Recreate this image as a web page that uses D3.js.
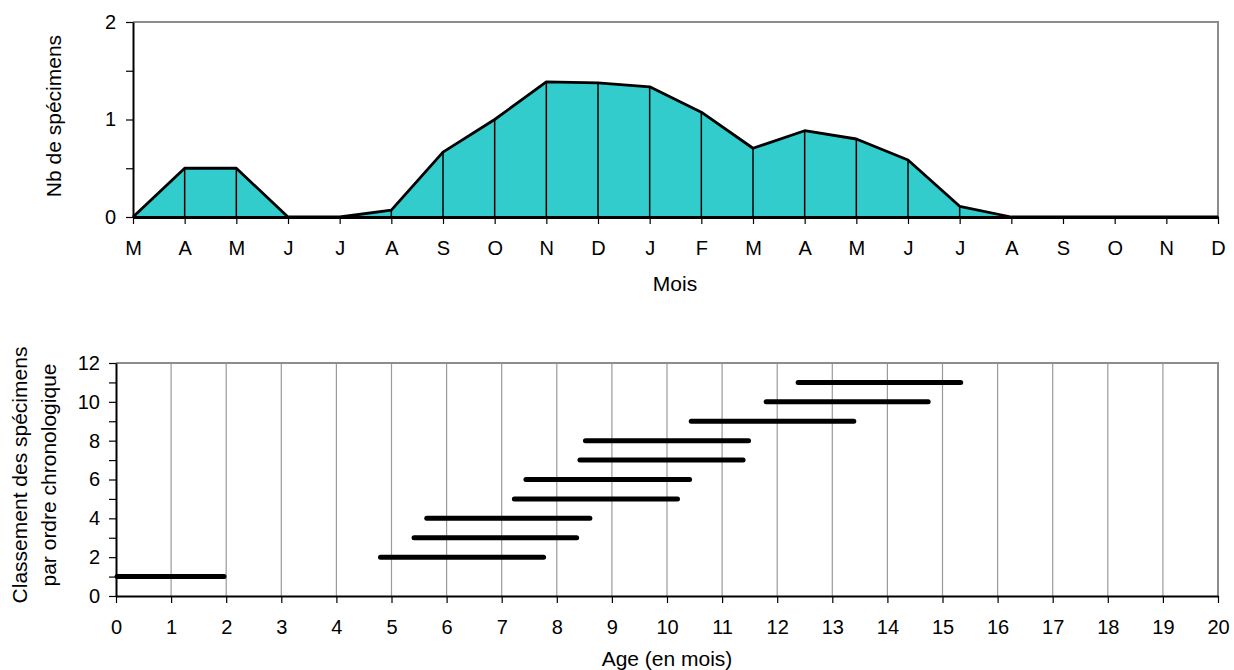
<!DOCTYPE html>
<html>
<head>
<meta charset="utf-8">
<script src="https://cdn.jsdelivr.net/npm/d3@7"></script>
<style>
  html, body { margin: 0; padding: 0; background: #fff; }
  svg { display: block; font-family: "Liberation Sans", Arial, sans-serif; }
</style>
</head>
<body>
<svg id="chart" width="1234" height="670"></svg>
<script>
// ---- Data ----
const months = ["M","A","M","J","J","A","S","O","N","D","J","F","M","A","M","J","J","A","S","O","N","D"];
const counts = [0, 0.5, 0.5, 0, 0, 0.07, 0.665, 1.0, 1.385, 1.375, 1.335, 1.075, 0.705, 0.885, 0.80, 0.585, 0.11, 0, 0, 0, 0, 0];
const countTicks = [0, 0.5, 1, 1.5, 2];

const ranks = [1, 2, 3, 4, 5, 6, 7, 8, 9, 10, 11];
const ageStart = [0.02, 4.80, 5.41, 5.64, 7.23, 7.44, 8.42, 8.52, 10.44, 11.80, 12.38];
const ageEnd   = [1.96, 7.76, 8.36, 8.60, 10.19, 10.41, 11.38, 11.48, 13.39, 14.74, 15.33];
const ageTicks = d3.range(0, 21);
const rankTicks = d3.range(0, 13);

const svg = d3.select("#chart");
const FONT_TICK = 20, FONT_TITLE = 21;
const FF = "Liberation Sans, Arial, sans-serif";

// ---------- Top chart ----------
const T = {left: 133, right: 1218, top: 22, bottom: 217};
const xT = d3.scaleLinear().domain([0, months.length - 1]).range([T.left, T.right]);
const yT = d3.scaleLinear().domain([0, 2]).range([T.bottom, T.top]);
const gT = svg.append("g");

gT.append("path")
  .attr("d", `M${T.left},${yT(2)}H${T.right}V${T.bottom}`)
  .attr("fill", "none").attr("stroke", "#8c8c8c").attr("stroke-width", 2);

const area = d3.area().x((d, i) => xT(i)).y0(yT(0)).y1(d => yT(d));
const line = d3.line().x((d, i) => xT(i)).y(d => yT(d));
gT.append("path").datum(counts).attr("d", area).attr("fill", "#33CCCC");

gT.selectAll("line.drop").data(counts.map((v, i) => ({v, i})).filter(d => d.v > 0))
  .join("line").attr("class", "drop")
  .attr("x1", d => xT(d.i)).attr("x2", d => xT(d.i))
  .attr("y1", d => yT(d.v)).attr("y2", yT(0))
  .attr("stroke", "#000").attr("stroke-width", 1.5);

gT.append("path").datum(counts).attr("d", line)
  .attr("fill", "none").attr("stroke", "#000").attr("stroke-width", 2.8).attr("stroke-linejoin", "round");

const axT = gT.append("g").attr("transform", `translate(0,${T.bottom})`)
  .call(d3.axisBottom(xT).tickValues(d3.range(months.length)).tickFormat(i => months[i]).tickSize(7).tickSizeOuter(0));
axT.select(".domain").attr("stroke", "#000").attr("stroke-width", 2.8);
axT.selectAll(".tick line").attr("stroke", "#000").attr("stroke-width", 1.2);
axT.selectAll(".tick text").attr("font-size", FONT_TICK).attr("fill", "#000").attr("y", 31).attr("dy", "0.35em")
  .attr("font-family", FF);

const ayT = gT.append("g").attr("transform", `translate(${T.left},0)`)
  .call(d3.axisLeft(yT).tickValues(countTicks).tickFormat(d => Number.isInteger(d) ? d : "").tickSize(7).tickSizeOuter(0));
ayT.select(".domain").attr("stroke", "#000").attr("stroke-width", 2);
ayT.selectAll(".tick line").attr("stroke", "#000").attr("stroke-width", 1.2);
ayT.selectAll(".tick text").attr("font-size", FONT_TICK).attr("fill", "#000").attr("x", -17)
  .attr("font-family", FF);

gT.append("text").attr("x", 675).attr("y", 284).attr("dy", "0.35em").attr("text-anchor", "middle")
  .attr("font-size", FONT_TITLE).text("Mois");
gT.append("text").attr("transform", "translate(54,116) rotate(-90)").attr("dy", "0.35em").attr("text-anchor", "middle")
  .attr("font-size", FONT_TITLE).text("Nb de spécimens");

// ---------- Bottom chart ----------
const B = {left: 116, right: 1218, top: 363, bottom: 596};
const xB = d3.scaleLinear().domain([0, 20]).range([B.left, B.right]);
const yB = d3.scaleLinear().domain([0, 12]).range([B.bottom, B.top]);
const gB = svg.append("g");

gB.selectAll("line.grid").data(ageTicks.filter(d => d > 0 && d < 20))
  .join("line").attr("class", "grid")
  .attr("x1", d => xB(d)).attr("x2", d => xB(d))
  .attr("y1", yB(12)).attr("y2", yB(0))
  .attr("stroke", "#9a9a9a").attr("stroke-width", 1.2);

gB.append("path")
  .attr("d", `M${B.left},${yB(12)}H${B.right}V${B.bottom}`)
  .attr("fill", "none").attr("stroke", "#8c8c8c").attr("stroke-width", 2);

gB.selectAll("line.bar").data(ranks.map((r, i) => ({r, s: ageStart[i], e: ageEnd[i]})))
  .join("line").attr("class", "bar")
  .attr("x1", d => xB(d.s)).attr("x2", d => xB(d.e))
  .attr("y1", d => yB(d.r)).attr("y2", d => yB(d.r))
  .attr("stroke", "#000").attr("stroke-width", 5).attr("stroke-linecap", "round");

const axB = gB.append("g").attr("transform", `translate(0,${B.bottom})`)
  .call(d3.axisBottom(xB).tickValues(ageTicks).tickFormat(d3.format("d")).tickSize(7).tickSizeOuter(0));
axB.select(".domain").attr("stroke", "#000").attr("stroke-width", 2);
axB.selectAll(".tick line").attr("stroke", "#000").attr("stroke-width", 1.2);
axB.selectAll(".tick text").attr("font-size", FONT_TICK).attr("fill", "#000").attr("y", 31).attr("dy", "0.35em")
  .attr("font-family", FF);

const ayB = gB.append("g").attr("transform", `translate(${B.left},0)`)
  .call(d3.axisLeft(yB).tickValues(rankTicks).tickFormat(d => d % 2 === 0 ? d : "").tickSize(7).tickSizeOuter(0));
ayB.select(".domain").attr("stroke", "#000").attr("stroke-width", 2);
ayB.selectAll(".tick line").attr("stroke", "#000").attr("stroke-width", 1.2);
ayB.selectAll(".tick text").attr("font-size", FONT_TICK).attr("fill", "#000").attr("x", -16)
  .attr("font-family", FF);

gB.append("text").attr("x", 667).attr("y", 659).attr("dy", "0.35em").attr("text-anchor", "middle")
  .attr("font-size", FONT_TITLE).text("Age (en mois)");
const yl = gB.append("text").attr("transform", "translate(20,475) rotate(-90)").attr("text-anchor", "middle")
  .attr("font-size", FONT_TITLE);
yl.append("tspan").attr("x", 0).attr("dy", "0.35em").text("Classement des spécimens");
yl.append("tspan").attr("x", 0).attr("dy", "1.35em").text("par ordre chronologique");
</script>
</body>
</html>
